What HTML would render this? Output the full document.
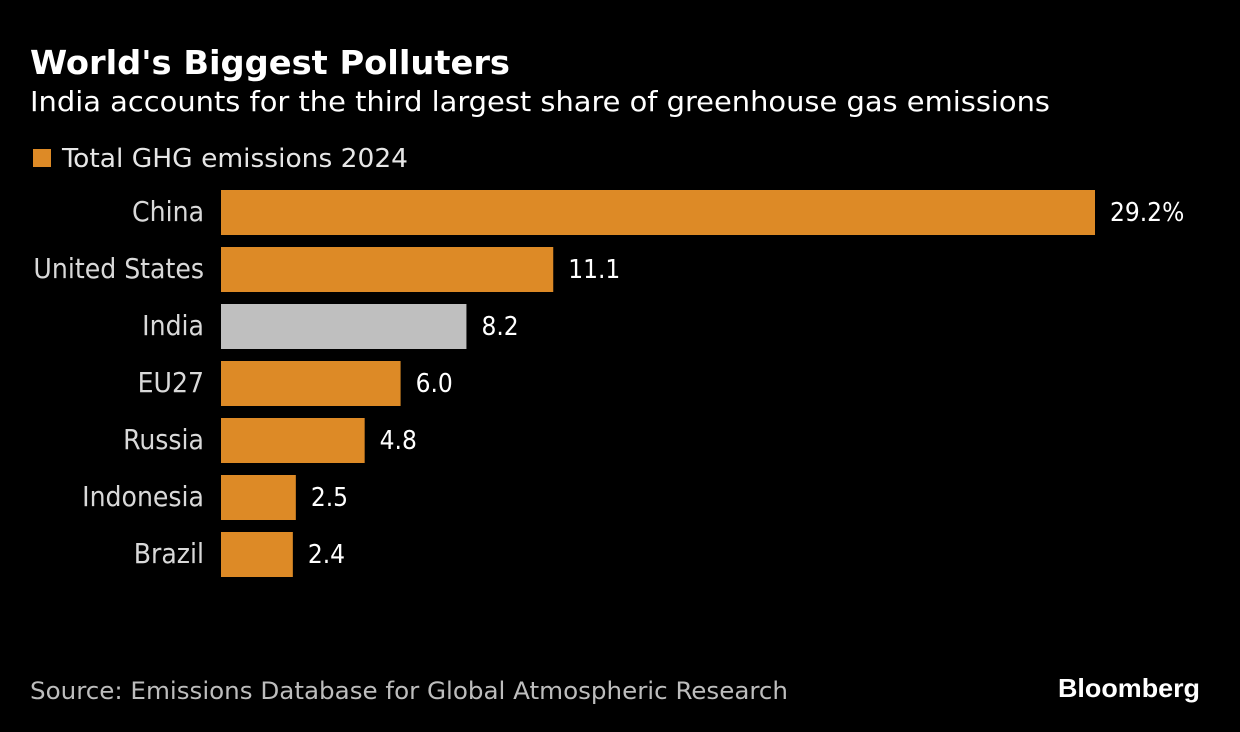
<!DOCTYPE html>
<html><head><meta charset="utf-8"><style>
html,body{margin:0;padding:0;background:#000;}
svg{display:block;font-family:"DejaVu Sans Condensed","Liberation Sans Narrow","Liberation Sans",sans-serif;}
</style></head><body>
<svg id="chart" width="1240" height="732" viewBox="0 0 1240 732">
<rect width="1240" height="732" fill="#000"/>
<text x="30" y="74" fill="#fff" font-size="33" font-weight="bold" textLength="480" lengthAdjust="spacingAndGlyphs">World's Biggest Polluters</text>
<text x="30" y="111" fill="#fff" font-size="28" textLength="1020" lengthAdjust="spacingAndGlyphs">India accounts for the third largest share of greenhouse gas emissions</text>
<rect x="33" y="149" width="18" height="18" fill="#dd8a26"/>
<text x="62" y="167" fill="#e6e6e6" font-size="26" textLength="346" lengthAdjust="spacingAndGlyphs">Total GHG emissions 2024</text>
<g id="bars"></g>
<text x="30" y="699" fill="#bdbdbd" font-size="24" textLength="758" lengthAdjust="spacingAndGlyphs">Source: Emissions Database for Global Atmospheric Research</text>
<text x="1200" y="697" fill="#fff" font-size="26" font-weight="bold" text-anchor="end" font-family="Liberation Sans, sans-serif" textLength="142" lengthAdjust="spacingAndGlyphs">Bloomberg</text>
</svg>
<script>
const categories = ["China","United States","India","EU27","Russia","Indonesia","Brazil"];
const values = [29.2,11.1,8.2,6.0,4.8,2.5,2.4];
const valueLabels = ["29.2%","11.1","8.2","6.0","4.8","2.5","2.4"];
const highlight = ["India"];
const NS="http://www.w3.org/2000/svg";
const x0=221, pxPerUnit=874/29.2;
function xScale(v){return x0+v*pxPerUnit;}
function yScale(i){return 190+i*57;}
const g=document.getElementById('bars');
categories.forEach((c,i)=>{
  const y=yScale(i), w=xScale(values[i])-x0;
  const r=document.createElementNS(NS,'rect');
  r.setAttribute('x',x0);r.setAttribute('y',y);r.setAttribute('width',w);r.setAttribute('height',45);
  r.setAttribute('fill',highlight.includes(c)?'#bfbfbf':'#dd8a26');
  
  
  g.appendChild(r);
  const t=document.createElementNS(NS,'text');
  t.setAttribute('x',204);t.setAttribute('y',y+31);t.setAttribute('text-anchor','end');
  t.setAttribute('fill','#d9d9d9');t.setAttribute('font-size','28');
  t.textContent=c;
  
  
  g.appendChild(t);
  const v=document.createElementNS(NS,'text');
  v.setAttribute('x',xScale(values[i])+15);v.setAttribute('y',y+31);
  v.setAttribute('fill','#fff');v.setAttribute('font-size','26');
  v.textContent=valueLabels[i];
  
  
  g.appendChild(v);
});
</script>
</body></html>
